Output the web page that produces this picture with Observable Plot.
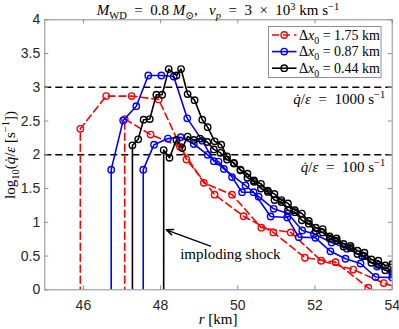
<!DOCTYPE html>
<html><head><meta charset="utf-8">
<script src="https://cdn.jsdelivr.net/npm/d3@7"></script>
<script src="https://cdn.jsdelivr.net/npm/@observablehq/plot@0.6"></script>
<style>html,body{margin:0;padding:0;background:#fff}svg{display:block}</style>
</head><body><div id="chart"></div>
<script>
// ---- data (r in km, v = log10(qdot/eps [s^-1])) ----
const redOuterR = [45.92,45.92,46.59,47.25,47.95,48.67,49.40,50.15,50.92,51.74,52.53,53.38,54.1];
const redOuterV = [-3,2.385,2.87,2.87,2.82,1.93,1.41,1.09,0.85,0.475,0.41,0.03,-0.3];
const redInnerR = [47.07,47.07,47.74,48.5,49.12,49.85,50.61,51.37,52.16,52.99,53.78,54.3];
const redInnerV = [-3,2.53,2.30,2.12,1.585,1.41,0.92,0.85,0.43,0.30,0.10,0.0];

const blueOuterR = [46.72,46.72,47.03,47.37,47.68,48.02,48.34,48.69,49.08,49.38,49.5,49.85,50.11,50.41,50.85,51.28,51.58,52.01,52.40,52.79,53.18,53.57,54.0];
const blueOuterV = [-3,1.78,2.51,2.72,3.175,3.175,3.16,2.54,2.21,1.905,1.90,1.67,1.446,1.446,1.086,1.07,0.78,0.77,0.57,0.46,0.39,0.19,0.18];
const blueInnerR = [47.55,47.55,47.83,48.19,48.52,48.86,49.22,49.64,50.20,50.54,50.93,51.3,51.67,51.97,52.43,52.83,53.22,53.61,54.0];
const blueInnerV = [-3,1.78,2.15,2.24,2.26,2.16,2.0,1.79,1.545,1.38,1.20,1.13,0.88,0.83,0.70,0.61,0.50,0.345,0.245];

const blackOuterR = [47.27,47.27,47.42,47.56,47.72,47.89,48.04,48.21,48.41,48.53,48.70,48.88,49.08,49.22,49.40,49.57,49.72,49.90,50.07,50.25,50.42,50.60,50.78,50.95,51.13,51.30,51.48,51.66,51.84,52.02,52.20,52.38,52.56,52.74,52.92,53.10,53.28,53.46,53.64,53.82,54.00];
const blackOuterV = [-3,2.14,2.23,2.52,2.53,2.89,2.89,3.27,3.175,3.27,2.90,2.81,2.52,2.41,2.20,2.15,1.975,1.87,1.78,1.66,1.60,1.50,1.45,1.33,1.30,1.18,1.15,1.03,0.98,0.87,0.85,0.76,0.73,0.64,0.62,0.53,0.50,0.40,0.37,0.29,0.27];
const blackInnerR = [48.08,48.08,48.23,48.41,48.56,48.70,48.86,49.02,49.21,49.38,49.55,49.72,49.90,50.07,50.25,50.42,50.60,50.78,50.95,51.13,51.30,51.48,51.66,51.84,52.02,52.20,52.38,52.56,52.74,52.92,53.10,53.28,53.46,53.64,53.82,54.00];
const blackInnerV = [-3,2.07,1.955,2.22,2.10,2.27,2.22,2.24,2.19,2.08,2.03,1.93,1.88,1.77,1.72,1.62,1.57,1.47,1.42,1.33,1.28,1.18,1.13,1.02,0.92,0.90,0.79,0.76,0.68,0.65,0.58,0.55,0.45,0.43,0.36,0.38];

const xTicks = [46,48,50,52,54];
const yTicks = [0,0.5,1,1.5,2,2.5,3,3.5,4];
const refLevels = [2,3];
const legendLabels = ["1.75","0.87","0.44"];
const seriesColors = ["#ff0000","#0000ff","#000000"];
// annotation anchors in data units
const arrowFrom = [49.29,0.646], arrowTo = [48.145,0.889];
const shockLabelAt = [49.82,0.444];
const refLabelX = 53.83, refLabelY = [2.745,1.745];

// ---- build ----
const rows = (series, branch, R, V) => R.map((r,i)=>({series, branch, r, v:V[i]}));
const red = [...rows("red","a",redOuterR,redOuterV), ...rows("red","b",redInnerR,redInnerV)];
const blue = [...rows("blue","a",blueOuterR,blueOuterV), ...rows("blue","b",blueInnerR,blueInnerV)];
const black = [...rows("black","a",blackOuterR,blackOuterV), ...rows("black","b",blackInnerR,blackInnerV)];

const W=399, H=329, mL=44.3, mR=7.3, mT=19.3, mB=39.7;
const fw = W-mL-mR, fh = H-mT-mB, tk = 4;
const axisCol = "#8c8c8c", lw = 1.6, dash = "7,4";

const seriesMarks = (data, color, dashed) => [
  Plot.line(data, {x:"r", y:"v", z:"branch", stroke:color, strokeWidth:lw, strokeDasharray: dashed ? dash : null, clip:true}),
  Plot.dot(data, {x:"r", y:"v", r:3.2, stroke:color, fill:"none", strokeWidth:1.4, clip:true})
];

const plot = Plot.plot({
  width: W, height: H, marginLeft: mL, marginRight: mR, marginTop: mT, marginBottom: mB,
  style: {fontFamily: "'Liberation Sans', Arial, sans-serif", fontSize: "14px", color: "#262626", background: "white", overflow: "visible"},
  x: {domain: [45,54]},
  y: {domain: [0,4]},
  marks: [
    Plot.ruleY(refLevels, {stroke:"black", strokeWidth:lw, strokeDasharray:dash}),
    ...seriesMarks(red, seriesColors[0], true),
    ...seriesMarks(blue, seriesColors[1], false),
    ...seriesMarks(black, seriesColors[2], false),
    Plot.arrow([0], {x1:()=>arrowFrom[0], y1:()=>arrowFrom[1], x2:()=>arrowTo[0], y2:()=>arrowTo[1], stroke:"black", strokeWidth:1.4, headLength:8, headAngle:45}),
    Plot.frame({stroke: axisCol}),
    Plot.tickX(xTicks, {x:d=>d, insetTop: fh-tk, stroke: axisCol}),
    Plot.tickX(xTicks, {x:d=>d, insetBottom: fh-tk, stroke: axisCol}),
    Plot.tickY(yTicks, {y:d=>d, insetRight: fw-tk, stroke: axisCol}),
    Plot.tickY(yTicks, {y:d=>d, insetLeft: fw-tk, stroke: axisCol}),
    Plot.axisX(xTicks, {tickSize:0, tickPadding:10, label:null, tickFormat:d=>String(d)}),
    Plot.axisY(yTicks, {tickSize:0, tickPadding:4.5, label:null, tickFormat:d=>String(d)})
  ]
});
document.getElementById("chart").append(plot);

// ---- rich text annotations ----
const sx = plot.scale("x"), sy = plot.scale("y");
const svg = d3.select(plot);
const serif = "'Liberation Serif', 'DejaVu Serif', serif";
const EN = "\u2002";
function rich(x, y, parts, {size=15, anchor="start", rotate=0, supShift=0.4}={}) {
  const t = svg.append("text")
    .attr("transform", `translate(${x},${y})` + (rotate ? ` rotate(${rotate})` : ""))
    .attr("font-family", serif).attr("font-size", size).attr("fill", "#000")
    .attr("text-anchor", anchor);
  let cur = 0;
  for (const p of parts) {
    const target = p.sub ? size*0.3 : p.sup ? -size*supShift : 0;
    const ts = t.append("tspan").text(p.t);
    if (target !== cur) ts.attr("dy", target - cur);
    cur = target;
    if (p.i) ts.attr("font-style", "italic");
    if (p.sub || p.sup) ts.attr("font-size", size*0.7);
  }
  return t;
}
const qdot = [{t:"q\u0307", i:1},{t:"/"},{t:"\u03b5", i:1}];

// title
rich(218, 14.5, [{t:"M",i:1},{t:"WD",sub:1},{t:EN+"="+EN+"0.8 "},{t:"M",i:1},{t:"\u2299",sub:1},{t:","+EN+" "},{t:"v",i:1},{t:"p",i:1,sub:1},{t:EN+"="+EN+"3"+EN+"\u00d7"+EN+"10"},{t:"3",sup:1},{t:" km s"},{t:"\u22121",sup:1}], {anchor:"middle", supShift:0.33});
// axis labels
rich(218, 323.5, [{t:"r",i:1},{t:" [km]"}], {anchor:"middle"});
rich(14.5, 155, [{t:"log"},{t:"10",sub:1},{t:"("},...qdot,{t:" [s"},{t:"\u22121",sup:1},{t:"])"}], {anchor:"middle", rotate:-90});
// reference level labels
rich(sx.apply(refLabelX), sy.apply(refLabelY[0]), [...qdot,{t:EN+"="+EN+"1000 s"},{t:"\u22121",sup:1}], {anchor:"end"});
rich(sx.apply(refLabelX), sy.apply(refLabelY[1]), [...qdot,{t:EN+"="+EN+"100 s"},{t:"\u22121",sup:1}], {anchor:"end"});
// shock label
rich(sx.apply(shockLabelAt[0]), sy.apply(shockLabelAt[1]), [{t:"imploding shock"}], {anchor:"middle"});

// legend
const lg = svg.append("g");
lg.append("rect").attr("x",268.5).attr("y",26.5).attr("width",112.5).attr("height",51)
  .attr("fill","white").attr("stroke","#777").attr("stroke-width",0.8);
legendLabels.forEach((lab,i)=>{
  const cy = 35 + i*16.6;
  lg.append("line").attr("x1",272).attr("x2",296.5).attr("y1",cy).attr("y2",cy)
    .attr("stroke",seriesColors[i]).attr("stroke-width",lw).attr("stroke-dasharray", i===0 ? "7,4" : null);
  lg.append("circle").attr("cx",284.2).attr("cy",cy).attr("r",3.2).attr("fill","none")
    .attr("stroke",seriesColors[i]).attr("stroke-width",1.4);
  rich(299, cy+4.5, [{t:"\u0394"},{t:"x",i:1},{t:"0",sub:1},{t:" = "+lab+" km"}], {size:14});
});
</script></body></html>
